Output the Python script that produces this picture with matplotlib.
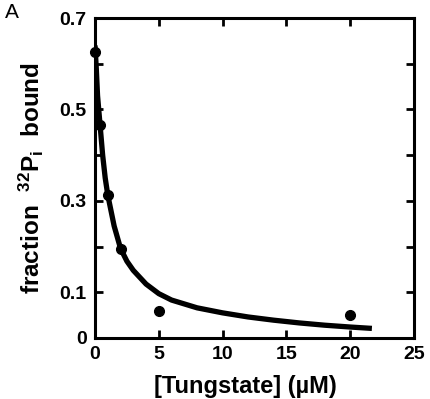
import matplotlib
matplotlib.use("Agg")
import matplotlib.pyplot as plt

# measured points
tungstate = [0, 0.4, 1, 2, 5, 20]
frac_bound = [0.625, 0.466, 0.313, 0.194, 0.058, 0.050]

# fitted curve
fit_x = [0, 0.1, 0.2, 0.4, 0.6, 0.8, 1.0, 1.5, 2.0, 2.5, 3.0, 4.0, 5.0,
         6.0, 8.0, 10, 12, 14, 16, 18, 20, 21.7]
fit_y = [0.64, 0.59, 0.53, 0.465, 0.40, 0.35, 0.313, 0.245, 0.196, 0.168,
         0.148, 0.118, 0.097, 0.083, 0.066, 0.055, 0.046, 0.039, 0.033,
         0.028, 0.024, 0.021]

yticks = [0, 0.1, 0.2, 0.3, 0.4, 0.5, 0.6, 0.7]
ylabels = ["0", "0.1", "", "0.3", "", "0.5", "", "0.7"]
xticks = [0, 5, 10, 15, 20, 25]

plt.rcParams["font.family"] = ["Liberation Sans", "DejaVu Sans"]
plt.rcParams["font.weight"] = "bold"
plt.rcParams["mathtext.fontset"] = "custom"
plt.rcParams["mathtext.rm"] = "Liberation Sans:bold"
plt.rcParams["mathtext.it"] = "Liberation Sans:bold"
plt.rcParams["mathtext.bf"] = "Liberation Sans:bold"

fig = plt.figure(figsize=(4.31, 3.99), dpi=100)
ax = fig.add_axes([95 / 431, 61 / 399, 319 / 431, 320 / 399])

ax.plot(fit_x, fit_y, color="black", lw=3.8, solid_capstyle="butt", zorder=2)
ax.plot(tungstate, frac_bound, "o", color="black", ms=7, clip_on=False, zorder=3)

ax.set_xlim(0, 25)
ax.set_ylim(0, 0.7)
ax.set_xticks(xticks)
ax.set_yticks(yticks)
ax.set_yticklabels(ylabels)
ax.tick_params(direction="in", length=6, width=2, labelsize=14, pad=6,
               top=True, right=True)
for sp in ax.spines.values():
    sp.set_linewidth(2.2)

ax.set_xlabel("[Tungstate] (\u00b5M)", fontsize=17, fontweight="bold")
ax.xaxis.set_label_coords(0.47, -0.115)
ax.set_ylabel(r"fraction  $^{32}$P$_{i}$  bound", fontsize=17.5, fontweight="bold")
ax.yaxis.set_label_coords(-0.155, 0.5)

fig.text(5 / 431, 381 / 399, "A", fontsize=15, fontweight="normal", va="baseline")

fig.savefig("out.png", dpi=100)
